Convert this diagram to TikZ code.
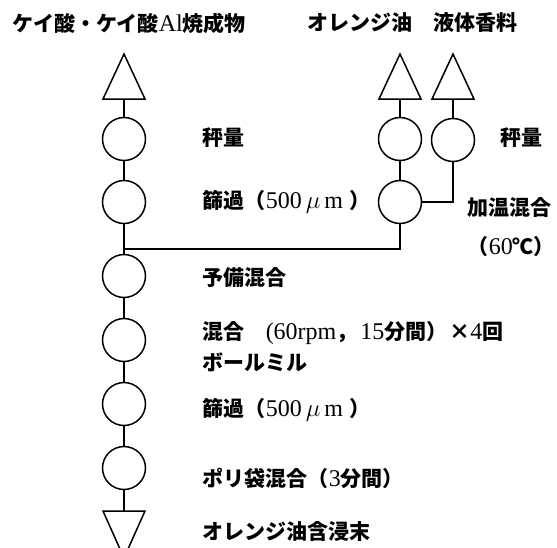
\documentclass[tikz,border=0pt]{standalone}
\usepackage{fontspec}
\newfontfamily\jpf{Noto Sans CJK JP}
\newfontfamily\latf{Liberation Serif}
\newcommand\lt[1]{{\latf\mdseries\fontsize{24}{24}\selectfont #1}}
\newcommand\closeparn{\makebox[10pt][l]{）}}
\tikzset{
  lbl/.style={anchor=west, inner sep=0pt, font=\jpf\bfseries\fontsize{21}{21}\selectfont},
  proc/.style={draw, circle, minimum size=43pt, inner sep=0pt}
}
\begin{document}
\begin{tikzpicture}[x=1pt, y=-1pt, line width=1.5pt]
\useasboundingbox (0,0) rectangle (557,547);
\begin{scope}
\clip (0,0) rectangle (557,547);
% storage triangles (up)
\draw[line join=miter] (103,99) -- (124,54) -- (145,99) -- cycle;
\draw[line join=miter] (379,99) -- (400,54) -- (421,99) -- cycle;
\draw[line join=miter] (432,99) -- (453,54) -- (474,99) -- cycle;
% product triangle (down)
\draw[line join=miter] (103,511) -- (124,558) -- (145,511) -- cycle;
\end{scope}
\coordinate (ta) at (124,99);
\coordinate (tb) at (400,99);
\coordinate (tc) at (453,99);
\coordinate (td) at (124,511);
\coordinate (j) at (124,249);
% process circles
\node[proc] (c1) at (124,139) {};
\node[proc] (c2) at (124,202) {};
\node[proc] (c3) at (124,276) {};
\node[proc] (c4) at (124,340) {};
\node[proc] (c5) at (124,404) {};
\node[proc] (c6) at (124,468) {};
\node[proc] (o1) at (400,139) {};
\node[proc] (o2) at (400,202) {};
\node[proc] (q1) at (453,140) {};
% connectors
\draw (ta) -- (c1.north);
\draw (c1) -- (c2);
\draw (c2.south) -- (c3.north);
\draw (c3) -- (c4);
\draw (c4) -- (c5);
\draw (c5) -- (c6);
\draw (c6.south) -- (td);
\draw (tb) -- (o1.north);
\draw (o1) -- (o2);
\draw (tc) -- (q1.north);
\draw (q1.south) |- (o2.east);
\draw (o2.south) |- (j);
% labels
\node[lbl] (t1) at (12,23) {ケイ酸・ケイ酸\lt{Al}焼成物};
\node[lbl] (t2) at (307,23) {オレンジ油　液体香料};
\node[lbl] (l1) at (202,138) {秤量};
\node[lbl] (l1r) at (500,138) {秤量};
\node[lbl] (l2) at (202,202) {篩過（\lt{500\,$\mu$\hspace{4pt}m\hspace{6pt}}）};
\node[lbl] (l2r) at (467,208) {加温混合};
\node[lbl] (l2t) at (467,247) {（\lt{60}℃\closeparn};
\node[lbl] (l3) at (202,278) {予備混合};
\node[lbl] (l4) at (202,333) {混合　\lt{(60rpm}，\hspace{3pt}\lt{15}分間）\hspace{2pt}×\lt{4}回};
\node[lbl] (l4b) at (202,362) {ボールミル};
\node[lbl] (l5) at (202,410) {篩過（\lt{500\,$\mu$\hspace{4pt}m\hspace{6pt}}）};
\node[lbl] (l6) at (202,478) {ポリ袋混合（\lt{3}分間）};
\node[lbl] (l7) at (202,532) {オレンジ油含浸末};
\end{tikzpicture}
\end{document}
